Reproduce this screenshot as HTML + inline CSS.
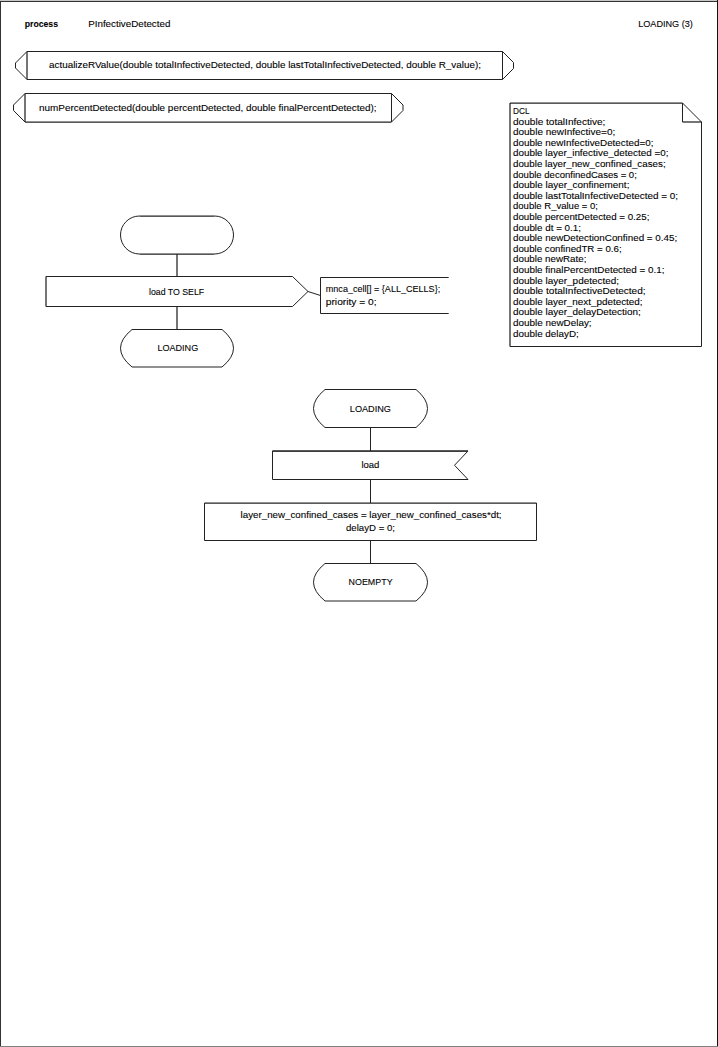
<!DOCTYPE html>
<html><head><meta charset="utf-8"><style>
html,body{margin:0;padding:0;background:#fff;width:718px;height:1047px;overflow:hidden}
svg{display:block}
text{font-family:"Liberation Sans",sans-serif;font-size:9.6px;fill:#000;stroke:#000;stroke-width:0.1px}
</style></head><body>
<svg width="718" height="1047" viewBox="0 0 718 1047">
<g fill="none" stroke="#333" stroke-width="1">
<rect x="0" y="0" width="718" height="1" fill="#c8c8c8" stroke="none"/>
<rect x="0" y="1" width="717" height="1" fill="#333" stroke="none"/>
<rect x="0" y="1" width="1" height="1046" fill="#333" stroke="none"/>
<rect x="717" y="0" width="1" height="1047" fill="#111" stroke="none"/>
<rect x="0" y="1046" width="718" height="1" fill="#808080" stroke="none"/>
<path d="M27,51.5 H502.5 M27,79.5 H502.5" stroke-width="1.0" stroke="#222"/>
<path d="M27,51.5 L15.5,63 V68 L27,79.5 M502.5,51.5 L513.5,62.5 V68.5 L502.5,79.5" stroke-width="1.0" stroke="#222"/>
<path d="M27,51.5 V79.5" stroke-width="1.25" stroke="#222"/>
<path d="M502.5,51.5 V79.5" stroke-width="1.0" stroke="#222"/>
<path d="M25,93.5 H391.5" stroke-width="1.0" stroke="#222"/>
<path d="M25,122 H391.5" stroke-width="1.25" stroke="#222"/>
<path d="M25,93.5 L13.5,105 V110.5 L25,122 M391.5,93.5 L403,105 V110.5 L391.5,122" stroke-width="1.0" stroke="#222"/>
<path d="M25,93.5 V122" stroke-width="1.25" stroke="#222"/>
<path d="M391.5,93.5 V122" stroke-width="1.0" stroke="#222"/>
<path d="M510,103 H682.5" stroke-width="1.25" stroke="#222"/>
<path d="M682.5,103 L701.5,122 V346.5 H510" stroke-width="1.0" stroke="#222"/>
<path d="M510,103 V346.5" stroke-width="1.25" stroke="#222"/>
<path d="M682.5,103 V122" stroke-width="1.0" stroke="#222"/>
<path d="M682.5,122 H701.5" stroke-width="1.25" stroke="#222"/>
<path d="M139.5,216 A19,19 0 0 0 139.5,254 M214.5,216 A19,19 0 0 1 214.5,254" stroke-width="1.0" stroke="#222"/>
<path d="M139.5,216 H214.5 M139.5,254 H214.5" stroke-width="1.25" stroke="#222"/>
<path d="M177,254 V276.5 M177,306.5 V329.5" stroke-width="1.25" stroke="#222"/>
<path d="M46,276.5 H292.5 L308,291.5 L292.5,306.5 H46" stroke-width="1.0" stroke="#222"/>
<path d="M46,276.5 V306.5" stroke-width="1.25" stroke="#222"/>
<path d="M308,291.5 L320.5,295.5" stroke-width="1.0" stroke="#222"/>
<path d="M448.7,277.5 H320.5 V313.5 H448.7" stroke-width="1.0" stroke="#222"/>
<path d="M132.0,329.5 H222.0 Q245.0,348.25 222.0,367 H132.0 Q109.0,348.25 132.0,329.5 Z" stroke="#222"/>
<path d="M325.0,389.5 H416.0 Q439.0,408.5 416.0,427.5 H325.0 Q302.0,408.5 325.0,389.5 Z" stroke="#222"/>
<path d="M370.5,427.5 V451 M370.5,479.5 V503 M370.5,540.5 V563.5" stroke-width="1.0" stroke="#222"/>
<path d="M272.5,451 H468 L454.5,465.25 L468,479.5 H272.5 Z" stroke-width="1.0" stroke="#222"/>
<path d="M272.5,451 H468" stroke-width="1.25" stroke="#222"/>
<path d="M204.5,503 V540.5 H536.5 V503" stroke-width="1.0" stroke="#222"/>
<path d="M204.5,503 H536.5" stroke-width="1.25" stroke="#222"/>
<path d="M325.0,563.5 H416.0 Q439.0,582.25 416.0,601 H325.0 Q302.0,582.25 325.0,563.5 Z" stroke="#222"/>
</g>
<g>
<text x="24.80" y="27.00" textLength="33.20" lengthAdjust="spacingAndGlyphs" font-weight="bold">process</text>
<text x="88.20" y="27.00" textLength="82.20" lengthAdjust="spacingAndGlyphs">PInfectiveDetected</text>
<text x="638.20" y="26.80" textLength="54.60" lengthAdjust="spacingAndGlyphs">LOADING (3)</text>
<text x="49.00" y="68.00" textLength="432.00" lengthAdjust="spacingAndGlyphs">actualizeRValue(double totalInfectiveDetected, double lastTotalInfectiveDetected, double R_value);</text>
<text x="39.00" y="111.00" textLength="337.60" lengthAdjust="spacingAndGlyphs">numPercentDetected(double percentDetected, double finalPercentDetected);</text>
<text x="149.00" y="294.70" textLength="55.20" lengthAdjust="spacingAndGlyphs">load TO SELF</text>
<text x="325.80" y="292.00" textLength="114.40" lengthAdjust="spacingAndGlyphs">mnca_cell[] = {ALL_CELLS};</text>
<text x="325.80" y="304.50" textLength="50.80" lengthAdjust="spacingAndGlyphs">priority = 0;</text>
<text x="157.40" y="350.70" textLength="40.80" lengthAdjust="spacingAndGlyphs">LOADING</text>
<text x="349.80" y="411.70" textLength="41.20" lengthAdjust="spacingAndGlyphs">LOADING</text>
<text x="361.40" y="467.80" textLength="18.00" lengthAdjust="spacingAndGlyphs">load</text>
<text x="240.60" y="517.60" textLength="261.00" lengthAdjust="spacingAndGlyphs">layer_new_confined_cases = layer_new_confined_cases*dt;</text>
<text x="346.00" y="530.70" textLength="49.00" lengthAdjust="spacingAndGlyphs">delayD = 0;</text>
<text x="348.60" y="584.80" textLength="44.00" lengthAdjust="spacingAndGlyphs">NOEMPTY</text>
<text x="513.00" y="113.90" textLength="16.60" lengthAdjust="spacingAndGlyphs">DCL</text>
<text x="513.00" y="124.50" textLength="92.40" lengthAdjust="spacingAndGlyphs">double totalInfective;</text>
<text x="513.00" y="135.10" textLength="102.20" lengthAdjust="spacingAndGlyphs">double newInfective=0;</text>
<text x="513.00" y="145.70" textLength="140.40" lengthAdjust="spacingAndGlyphs">double newInfectiveDetected=0;</text>
<text x="513.00" y="156.30" textLength="155.40" lengthAdjust="spacingAndGlyphs">double layer_infective_detected =0;</text>
<text x="513.00" y="166.90" textLength="152.60" lengthAdjust="spacingAndGlyphs">double layer_new_confined_cases;</text>
<text x="513.00" y="177.50" textLength="123.80" lengthAdjust="spacingAndGlyphs">double deconfinedCases = 0;</text>
<text x="513.00" y="188.10" textLength="116.40" lengthAdjust="spacingAndGlyphs">double layer_confinement;</text>
<text x="513.00" y="198.70" textLength="165.00" lengthAdjust="spacingAndGlyphs">double lastTotalInfectiveDetected = 0;</text>
<text x="513.00" y="209.30" textLength="85.00" lengthAdjust="spacingAndGlyphs">double R_value = 0;</text>
<text x="513.00" y="219.90" textLength="136.40" lengthAdjust="spacingAndGlyphs">double percentDetected = 0.25;</text>
<text x="513.00" y="230.50" textLength="68.00" lengthAdjust="spacingAndGlyphs">double dt = 0.1;</text>
<text x="513.00" y="241.10" textLength="164.20" lengthAdjust="spacingAndGlyphs">double newDetectionConfined = 0.45;</text>
<text x="513.00" y="251.70" textLength="108.60" lengthAdjust="spacingAndGlyphs">double confinedTR = 0.6;</text>
<text x="513.00" y="262.30" textLength="73.40" lengthAdjust="spacingAndGlyphs">double newRate;</text>
<text x="513.00" y="272.90" textLength="151.40" lengthAdjust="spacingAndGlyphs">double finalPercentDetected = 0.1;</text>
<text x="513.00" y="283.50" textLength="106.00" lengthAdjust="spacingAndGlyphs">double layer_pdetected;</text>
<text x="513.00" y="294.10" textLength="132.60" lengthAdjust="spacingAndGlyphs">double totalInfectiveDetected;</text>
<text x="513.00" y="304.70" textLength="129.60" lengthAdjust="spacingAndGlyphs">double layer_next_pdetected;</text>
<text x="513.00" y="315.30" textLength="127.80" lengthAdjust="spacingAndGlyphs">double layer_delayDetection;</text>
<text x="513.00" y="325.90" textLength="78.60" lengthAdjust="spacingAndGlyphs">double newDelay;</text>
<text x="513.00" y="336.50" textLength="65.80" lengthAdjust="spacingAndGlyphs">double delayD;</text>
</g>
</svg>
</body></html>
